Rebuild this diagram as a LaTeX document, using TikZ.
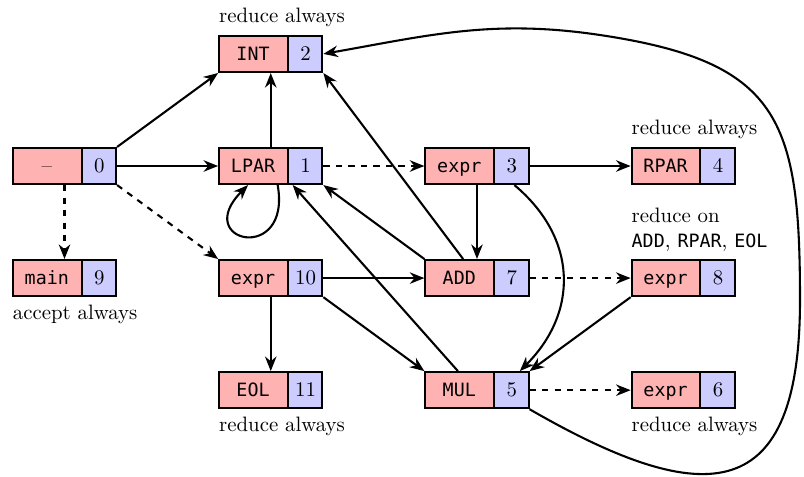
\documentclass[tikz,border=0pt]{standalone}
\usepackage{fontspec}
\setmonofont{DejaVu Sans Mono}[Scale=0.88]
\usepackage{tikz}
\usetikzlibrary{shapes.multipart, arrows.meta}
\definecolor{symred}{rgb}{1, 0.7, 0.7}
\definecolor{numblue}{rgb}{0.8, 0.8, 1}
\newcommand{\stsym}[1]{\makebox[32.5pt]{\rule[-5.45pt]{0pt}{17.3pt}\ttfamily #1}}
\newcommand{\stnum}[1]{\makebox[16pt]{\rule[-5.45pt]{0pt}{17.3pt}#1}}

\begin{document}
\begin{tikzpicture}[>={Stealth[length=7pt, width=5.5pt]}, line width=1pt, node distance=53.8pt,
        state/.style={rectangle split, rectangle split horizontal, rectangle split parts=2,
            rectangle split part fill={symred, numblue}, draw, inner sep=0pt},
        note/.style={inner xsep=0pt, align=left}]
    \useasboundingbox (-30.96pt,79.68pt) rectangle (354.96pt,-148.8pt);
    % states
    \node[state] (s0) {\stsym{\rmfamily\textendash}\nodepart{two}\stnum{0}};
    \node[state] (s1) [right of = s0, node distance=99pt] {\stsym{LPAR}\nodepart{two}\stnum{1}};
    \node[state] (s2) [above of = s1] {\stsym{INT}\nodepart{two}\stnum{2}};
    \node[state] (s10) [below of = s1] {\stsym{expr}\nodepart{two}\stnum{10}};
    \node[state] (s11) [below of = s10] {\stsym{EOL}\nodepart{two}\stnum{11}};
    \node[state] (s9) [below of = s0] {\stsym{main}\nodepart{two}\stnum{9}};
    \node[state] (s3) [right of = s1, node distance=99pt] {\stsym{expr}\nodepart{two}\stnum{3}};
    \node[state] (s4) [right of = s3, node distance=99pt] {\stsym{RPAR}\nodepart{two}\stnum{4}};
    \node[state] (s7) [right of = s10, node distance=99pt] {\stsym{ADD}\nodepart{two}\stnum{7}};
    \node[state] (s8) [right of = s7, node distance=99pt] {\stsym{expr}\nodepart{two}\stnum{8}};
    \node[state] (s5) [right of = s11, node distance=99pt] {\stsym{MUL}\nodepart{two}\stnum{5}};
    \node[state] (s6) [right of = s5, node distance=99pt] {\stsym{expr}\nodepart{two}\stnum{6}};
    % actions
    \node[note, anchor=south west] (n2) at (s2.north west) {reduce always};
    \node[note, anchor=south west] (n4) at (s4.north west) {reduce always};
    \node[note, anchor=south west] (n8) at (s8.north west) {reduce on\\\texttt{ADD}, \texttt{RPAR}, \texttt{EOL}};
    \node[note, anchor=north west] (n9) at (s9.south west) {accept always};
    \node[note, anchor=north west] (n11) at (s11.south west) {reduce always};
    \node[note, anchor=north west] (n6) at (s6.south west) {reduce always};
    % transitions
    \path[->] (s0) edge (s1)
            (s0.north east) edge (s2.south west)
            (s1) edge (s2)
            (s3) edge (s4) edge (s7)
            (s10) edge (s7) edge (s11)
            (s10.south east) edge (s5.north west)
            (s7.126) edge (s2.south east)
            (s7.north west) edge (s1.south east)
            (s8.south west) edge (s5.north east)
            (s5.135) edge (s1.-41);
    \path[->, dashed] (s0) edge (s9)
            (s0.south east) edge (s10.north west)
            (s1) edge (s3)
            (s7) edge (s8)
            (s5) edge (s6);
    \draw[->] (s1.-70) to[out=-80, in=-135, looseness=7] (s1.-140);
    \draw[->] (s3.-27) to[out=-40, in=45, looseness=1.14] (s5.24);
    \coordinate (farright) at (353.04pt,-64.32pt);
    \coordinate (fartop) at (257.04pt,62.88pt);
    \draw[->] (s5.south east) to[out=-30, in=-90, looseness=1.8] (farright)
        to[out=90, in=-8.5, looseness=1.4] (fartop) to[out=171.5, in=10] (s2.east);
\end{tikzpicture}
\end{document}
